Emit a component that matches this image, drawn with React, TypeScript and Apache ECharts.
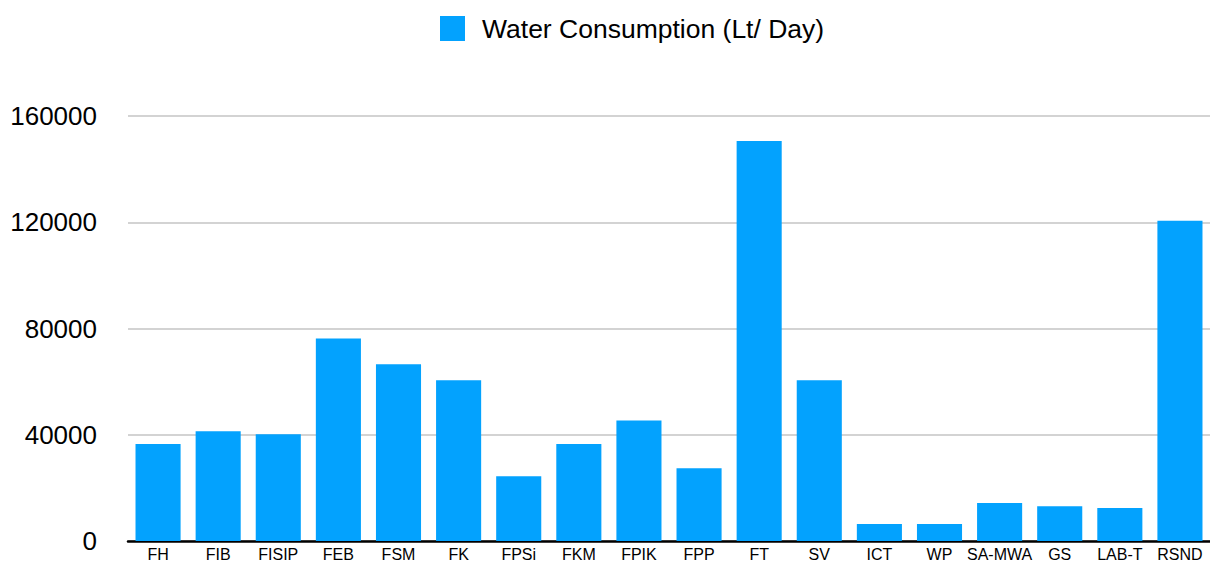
import React, { useEffect, useRef } from "react";
import * as echarts from "echarts";

const categories = ["FH", "FIB", "FISIP", "FEB", "FSM", "FK", "FPSi", "FKM", "FPIK", "FPP", "FT", "SV", "ICT", "WP", "SA-MWA", "GS", "LAB-T", "RSND"];
const consumption = [36500, 41300, 40200, 76200, 66500, 60500, 24400, 36500, 45400, 27400, 150600, 60500, 6400, 6400, 14300, 13100, 12400, 120600];
const seriesName = "Water Consumption (Lt/ Day)";
const yMax = 160000;
const yInterval = 40000;

export default function App() {
  const ref = useRef<HTMLDivElement>(null);
  useEffect(() => {
    if (!ref.current) return;
    const chart = echarts.init(ref.current, null, { renderer: "svg" });
    const font = "Helvetica, 'Liberation Sans', Arial, sans-serif";
    chart.setOption({
      animation: false,
      backgroundColor: "#ffffff",
      textStyle: { fontFamily: font },
      legend: {
        left: 440,
        top: 15,
        padding: 0,
        itemWidth: 25,
        itemHeight: 25,
        icon: "rect",
        textStyle: { fontSize: 26.5, color: "#000", fontFamily: font, padding: [0, 0, 0, 12] },
        data: [seriesName],
      },
      grid: { left: 128, right: 0, top: 116, bottom: 21, containLabel: false },
      xAxis: {
        type: "category",
        data: categories,
        axisLine: { show: true, lineStyle: { color: "#000", width: 2.5 } },
        axisTick: { show: false },
        axisLabel: { color: "#000", fontSize: 16, margin: 5, interval: 0, fontFamily: font },
      },
      yAxis: {
        type: "value",
        min: 0,
        max: yMax,
        interval: yInterval,
        axisLine: { show: false },
        axisTick: { show: false },
        splitLine: { lineStyle: { color: "#c4c4c4", width: 1.5 } },
        axisLabel: {
          color: "#000",
          fontSize: 26,
          margin: 31,
          fontFamily: font,
          formatter: (v: number) => String(v),
        },
      },
      series: [
        {
          name: seriesName,
          type: "bar",
          data: consumption,
          barCategoryGap: "25%",
          itemStyle: { color: "#03A2FE" },
        },
      ],
    });
    return () => chart.dispose();
  }, []);
  return <div ref={ref} style={{ position: "absolute", left: 0, top: 0, width: 1210, height: 562 }} />;
}
